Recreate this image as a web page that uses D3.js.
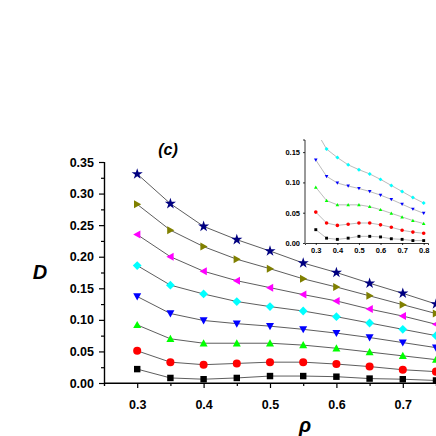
<!DOCTYPE html>
<html><head><meta charset="utf-8">
<script src="https://cdn.jsdelivr.net/npm/d3@7"></script>
<style>body{margin:0;background:#fff}text{font-family:Arial,"Liberation Sans",sans-serif;font-weight:bold}</style>
</head><body><div id="chart"></div>
<script>
const rho = [0.3, 0.35, 0.4, 0.45, 0.5, 0.55, 0.6, 0.65, 0.7, 0.75, 0.8]
const sBlack = [0.022, 0.008, 0.006, 0.008, 0.011, 0.011, 0.010, 0.007, 0.006, 0.004, 0.004]
const sRed = [0.051, 0.033, 0.029, 0.031, 0.033, 0.033, 0.030, 0.026, 0.021, 0.018, 0.016]
const sGreen = [0.092, 0.070, 0.063, 0.063, 0.063, 0.060, 0.055, 0.049, 0.043, 0.037, 0.032]
const sBlue = [0.137, 0.110, 0.099, 0.094, 0.090, 0.085, 0.079, 0.072, 0.064, 0.056, 0.049]
const sCyan = [0.186, 0.155, 0.141, 0.129, 0.121, 0.114, 0.105, 0.095, 0.085, 0.075, 0.066]
const sMagenta = [0.235, 0.200, 0.177, 0.162, 0.151, 0.140, 0.130, 0.117, 0.106, 0.093, 0.082]
const sOlive = [0.283, 0.242, 0.216, 0.196, 0.181, 0.165, 0.152, 0.138, 0.124, 0.110, 0.097]
const sStar = [0.331, 0.284, 0.248, 0.227, 0.209, 0.190, 0.175, 0.158, 0.142, 0.125, 0.110]
const yTicks = [0, 0.05, 0.1, 0.15, 0.2, 0.25, 0.3, 0.35]
const xTicks = [0.3, 0.4, 0.5, 0.6, 0.7]
const insetX = [0.3, 0.4, 0.5, 0.6, 0.7, 0.8]
const insetY = [0, 0.05, 0.1, 0.15]

const series = [
  { v: sBlack, c: '#000000', sym: d3.symbolSquare },
  { v: sRed, c: '#ff0000', sym: d3.symbolCircle },
  { v: sGreen, c: '#00ff00', sym: 'up' },
  { v: sBlue, c: '#0000ff', sym: 'down' },
  { v: sCyan, c: '#00ffff', sym: 'diamond' },
  { v: sMagenta, c: '#ff00ff', sym: 'left' },
  { v: sOlive, c: '#808000', sym: 'right' },
  { v: sStar, c: '#000080', sym: d3.symbolStar }
]

const svg = d3.select('#chart').append('svg').attr('width', 436).attr('height', 436)

function tri(dir, s) {
  const p = { up: [[0, -s], [s, s * 0.8], [-s, s * 0.8]], down: [[0, s], [s, -s * 0.8], [-s, -s * 0.8]],
    left: [[-s, 0], [s * 0.8, -s], [s * 0.8, s]], right: [[s, 0], [-s * 0.8, -s], [-s * 0.8, s]],
    diamond: [[0, -s * 1.1], [s * 1.1, 0], [0, s * 1.1], [-s * 1.1, 0]] }[dir]
  return 'M' + p.map(q => q.join(',')).join('L') + 'Z'
}
function markPath(sym, s) {
  if (typeof sym === 'string') return tri(sym, s)
  const area = sym === d3.symbolStar ? s * s * 2.4 : sym === d3.symbolSquare ? s * s * 2.6 : s * s * 3.2
  return d3.symbol(sym, area)()
}

function panel(g, x, y, opts) {
  g.append('clipPath').attr('id', opts.id).append('rect')
    .attr('x', x.range()[0]).attr('y', y.range()[1]).attr('width', x.range()[1] - x.range()[0]).attr('height', y.range()[0] - y.range()[1])
  const body = g.append('g').attr('clip-path', 'url(#' + opts.id + ')')
  const line = d3.line().x((d, i) => x(rho[i])).y(d => y(d))
  opts.series.forEach(s => {
    body.append('path').attr('d', line(s.v)).attr('fill', 'none').attr('stroke', opts.lineColor).attr('stroke-width', 0.8)
    s.v.forEach((d, i) => {
      body.append('path').attr('d', markPath(s.sym, opts.ms))
        .attr('transform', `translate(${x(rho[i])},${y(d)})`).attr('fill', s.c)
    })
  })
}

// main plot
const x = d3.scaleLinear().domain([0.25, 0.75]).range([104, 436])
const y = d3.scaleLinear().domain([0, 0.35]).range([383, 162])
panel(svg, x, y, { id: 'cm', series: series, ms: 4, lineColor: '#333' })

const xa = svg.append('g').attr('transform', 'translate(0,383)')
  .call(d3.axisBottom(x).tickValues(xTicks).tickFormat(d3.format('.1f')).tickSize(5).tickPadding(12))
xa.append('g').call(d3.axisBottom(x).tickValues(d3.range(0.25, 0.76, 0.1)).tickSize(3).tickFormat(''))
const ya = svg.append('g').attr('transform', 'translate(104,0)')
  .call(d3.axisLeft(y).tickValues(yTicks).tickFormat(d3.format('.2f')).tickSize(5).tickPadding(5))
ya.append('g').call(d3.axisLeft(y).tickValues(d3.range(0.025, 0.35, 0.05)).tickSize(3).tickFormat(''))
;[xa, ya].forEach(a => {
  a.selectAll('text').style('font-size', '12.5px').attr('fill', '#000')
  a.selectAll('path,line').attr('stroke', '#000').attr('stroke-width', 1.2)
})
xa.select('.domain').attr('d', 'M104,0H436')

svg.append('text').attr('x', 40).attr('y', 279).attr('text-anchor', 'middle')
  .style('font-size', '20px').style('font-style', 'italic').text('D')
svg.append('text').attr('x', 305).attr('y', 432).attr('text-anchor', 'middle')
  .style('font-size', '20px').style('font-style', 'italic').text('ρ')
svg.append('text').attr('x', 168).attr('y', 155).attr('text-anchor', 'middle')
  .style('font-size', '16px').style('font-style', 'italic').text('(c)')

// inset
const ix = d3.scaleLinear().domain([0.25, 0.82]).range([305, 428])
const iy = d3.scaleLinear().domain([0, 0.17]).range([243, 140])
svg.append('rect').attr('x', 305).attr('y', 140).attr('width', 123).attr('height', 103).attr('fill', '#fff')
panel(svg, ix, iy, { id: 'ci', series: series.slice(0, 5), ms: 1.8, lineColor: '#aaa' })
const ixa = svg.append('g').attr('transform', 'translate(0,243)')
  .call(d3.axisBottom(ix).tickValues(insetX).tickFormat(d3.format('.1f')).tickSize(2).tickPadding(3))
const iya = svg.append('g').attr('transform', 'translate(305,0)')
  .call(d3.axisLeft(iy).tickValues(insetY).tickFormat(d3.format('.2f')).tickSize(2).tickPadding(3))
;[ixa, iya].forEach(a => {
  a.selectAll('text').style('font-size', '7.5px').attr('fill', '#000')
  a.selectAll('path,line').attr('stroke', '#000').attr('stroke-width', 0.8)
})
iya.select('.domain').attr('d', 'M-2,140H0V243')
</script></body></html>
